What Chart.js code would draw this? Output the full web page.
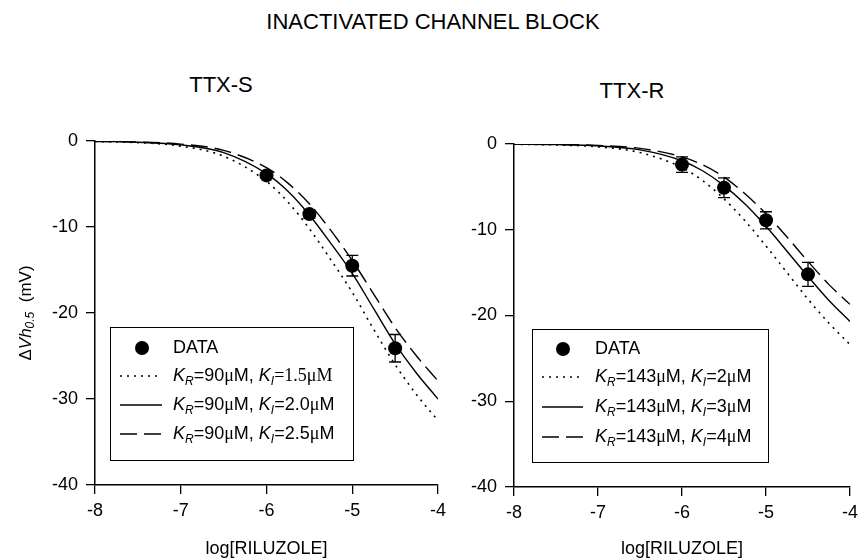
<!DOCTYPE html>
<html>
<head>
<meta charset="utf-8">
<title>Inactivated channel block</title>
<script src="https://cdn.jsdelivr.net/npm/chart.js@4.4.1/dist/chart.umd.min.js"></script>
<style>
  body { margin: 0; background: #fff; }
  #page { position: relative; width: 864px; height: 560px; overflow: hidden; font-family: "Liberation Sans", Arial, sans-serif; color: #000; }
  .lbl { position: absolute; transform: translate(-50%, -50%); white-space: nowrap; font-size: 22px; line-height: 1; }
  canvas { position: absolute; top: 0; }
</style>
</head>
<body>
<div id="page">
  <div class="lbl" style="left:433px;top:22px">INACTIVATED CHANNEL BLOCK</div>
  <div class="lbl" style="left:221px;top:85px">TTX-S</div>
  <div class="lbl" style="left:632px;top:91px">TTX-R</div>
  <canvas id="ttxs" width="462" height="560" style="left:0"></canvas>
  <canvas id="ttxr" width="424" height="560" style="left:440px"></canvas>
</div>
<script>
// values
const xTicks = [-8, -7, -6, -5, -4];
const yTicks = [0, -10, -20, -30, -40];
const doseLog = [-6, -5.5, -5, -4.5];

const ttxsMean = [-4.0, -8.5, -14.5, -24.1];
const ttxsSem = [0.3, 0.5, 1.2, 1.6];
const ttxrMean = [-2.4, -5.1, -8.9, -15.2];
const ttxrSem = [0.9, 1.15, 1.0, 1.4];

// model curves
const fitX = [-8, -7.5, -7, -6.5, -6, -5.75, -5.5, -5.25, -5, -4.75, -4.5, -4.25, -4];
const ttxsFitA = [-0.06, -0.19, -0.6, -1.77, -4.7, -7.1, -10.2, -13.8, -17.6, -21.9, -26.0, -29.5, -32.5];
const ttxsFitB = [-0.05, -0.14, -0.45, -1.35, -3.8, -5.85, -8.6, -11.9, -15.4, -19.5, -23.6, -27.0, -30.0];
const ttxsFitC = [-0.04, -0.12, -0.36, -1.09, -3.1, -4.9, -7.3, -10.4, -13.9, -17.8, -21.7, -25.0, -27.9];
const ttxrFitA = [-0.03, -0.11, -0.33, -1.0, -2.75, -4.3, -6.4, -8.95, -11.9, -15.0, -18.1, -20.9, -23.4];
const ttxrFitB = [-0.02, -0.07, -0.22, -0.68, -1.95, -3.15, -4.85, -7.0, -9.6, -12.5, -15.45, -18.25, -20.7];
const ttxrFitC = [-0.02, -0.05, -0.17, -0.51, -1.5, -2.45, -3.85, -5.8, -8.15, -10.85, -13.7, -16.4, -18.7];

const ttxsKr = '90';
const ttxsKi = ['1.5', '2.0', '2.5'];
const ttxrKr = '143';
const ttxrKi = ['2', '3', '4'];

const FAMILY = '"Liberation Sans", Arial, sans-serif';
const SERIF = '"Liberation Serif", "Times New Roman", serif';

// dotted, solid, long dash
const fitStyles = [
  { dash: [2, 5], width: 1.6 },
  { dash: [], width: 1.4 },
  { dash: [17, 7], width: 1.4 }
];

Chart.defaults.font.family = FAMILY;
Chart.defaults.color = '#000';

// draw text made of pieces (italic / subscript / serif)
function drawRich(ctx, segs, x, y, size, align) {
  const fontOf = s => (s.it ? 'italic ' : '') + (s.sub ? Math.round(size * 0.68) : size) + 'px ' + (s.serif ? SERIF : FAMILY);
  let w = 0;
  segs.forEach(s => { ctx.font = fontOf(s); s.w = ctx.measureText(s.t).width; w += s.w; });
  let cx = align === 'center' ? x - w / 2 : x;
  ctx.textAlign = 'left';
  ctx.textBaseline = 'middle';
  segs.forEach(s => {
    ctx.font = fontOf(s);
    ctx.fillText(s.t, cx, y + (s.sub ? size * 0.3 : 0));
    cx += s.w;
  });
}

function kLabel(kr, ki, serifKi) {
  return [
    { t: 'K', it: true }, { t: 'R', it: true, sub: true }, { t: '=' + kr }, { t: '\u03bc', serif: true }, { t: 'M, ' },
    { t: 'K', it: true }, { t: 'I', it: true, sub: true }, { t: '=' + ki, serif: serifKi },
    { t: '\u03bc', serif: true }, { t: 'M', serif: serifKi }
  ];
}

function makeChart(id, p) {
  const datasets = p.fits.map((f, i) => ({
    type: 'line',
    data: fitX.map((x, j) => ({ x: x, y: f[j] })),
    borderColor: '#000',
    borderWidth: fitStyles[i].width,
    borderDash: fitStyles[i].dash,
    pointRadius: 0,
    showLine: true,
    cubicInterpolationMode: 'monotone',
    fill: false
  }));
  datasets.push({
    type: 'scatter',
    data: doseLog.map((x, j) => ({ x: x, y: p.mean[j] })),
    backgroundColor: '#000',
    borderColor: '#000',
    pointRadius: 7,
    pointBorderWidth: 0
  });

  const errorBars = {
    id: 'errorBars',
    afterDatasetsDraw(chart) {
      const { ctx, scales: { x, y } } = chart;
      ctx.save();
      ctx.strokeStyle = '#000';
      ctx.lineWidth = 1.3;
      doseLog.forEach((d, j) => {
        const px = x.getPixelForValue(d);
        const top = y.getPixelForValue(p.mean[j] + p.sem[j]);
        const bot = y.getPixelForValue(p.mean[j] - p.sem[j]);
        ctx.beginPath();
        ctx.moveTo(px, top); ctx.lineTo(px, bot);
        ctx.moveTo(px - 6, top); ctx.lineTo(px + 6, top);
        ctx.moveTo(px - 6, bot); ctx.lineTo(px + 6, bot);
        ctx.stroke();
      });
      ctx.restore();
    }
  };

  const legendBox = {
    id: 'legendBox',
    afterDraw(chart) {
      const ctx = chart.ctx, L = p.legend;
      ctx.save();
      ctx.fillStyle = '#fff';
      ctx.fillRect(L.x, L.y, L.w, L.h);
      ctx.strokeStyle = '#000';
      ctx.lineWidth = 1;
      ctx.strokeRect(L.x + 0.5, L.y + 0.5, L.w, L.h);
      ctx.fillStyle = '#000';
      ctx.beginPath();
      ctx.arc(L.mark, L.rows[0], 7, 0, Math.PI * 2);
      ctx.fill();
      drawRich(ctx, [{ t: 'DATA' }], L.text, L.rows[0], 18);
      p.ki.forEach((ki, i) => {
        const yy = L.rows[i + 1];
        ctx.setLineDash(fitStyles[i].dash);
        ctx.lineWidth = fitStyles[i].width;
        ctx.beginPath();
        ctx.moveTo(L.l0, yy); ctx.lineTo(L.l1, yy);
        ctx.stroke();
        ctx.setLineDash([]);
        drawRich(ctx, kLabel(p.kr, ki, p.serifRow === i), L.text, yy, 18);
      });
      ctx.restore();
    }
  };

  const yTitle = {
    id: 'yTitle',
    afterDraw(chart) {
      if (!p.yTitle) return;
      const ctx = chart.ctx;
      ctx.save();
      ctx.translate(26, 313);
      ctx.rotate(-Math.PI / 2);
      ctx.fillStyle = '#000';
      drawRich(ctx, [{ t: '\u0394' }, { t: 'Vh', it: true }, { t: '0.5', it: true, sub: true }, { t: '  (mV)' }], 0, 0, 17, 'center');
      ctx.restore();
    }
  };

  const axisLine = { color: '#000', width: 1.5 };
  const tickMarks = { drawOnChartArea: false, tickLength: 9, color: '#000', lineWidth: 1.3 };

  return new Chart(document.getElementById(id), {
    type: 'scatter',
    data: { datasets },
    options: {
      responsive: false,
      animation: false,
      layout: { autoPadding: false, padding: { top: p.top, right: p.right, bottom: 0, left: 0 } },
      plugins: { legend: { display: false }, tooltip: { enabled: false } },
      scales: {
        x: {
          type: 'linear', min: -8, max: -4,
          afterBuildTicks: s => { s.ticks = xTicks.map(v => ({ value: v })); },
          afterFit: s => { s.height = p.xh; },
          ticks: { color: '#000', font: { size: 18 }, padding: 6, maxRotation: 0 },
          grid: tickMarks,
          border: axisLine,
          title: { display: true, text: 'log[RILUZOLE]', color: '#000', font: { size: 18 }, padding: { top: 0, bottom: 0 } }
        },
        y: {
          type: 'linear', min: -40, max: 0,
          afterBuildTicks: s => { s.ticks = yTicks.map(v => ({ value: v })); },
          afterFit: s => { s.width = p.yw; },
          ticks: { color: '#000', font: { size: 18 }, padding: 8 },
          grid: tickMarks,
          border: axisLine
        }
      }
    },
    plugins: [errorBars, legendBox, yTitle]
  });
}

makeChart('ttxs', {
  fits: [ttxsFitA, ttxsFitB, ttxsFitC],
  mean: ttxsMean, sem: ttxsSem,
  kr: ttxsKr, ki: ttxsKi, serifRow: 0,
  top: 141, right: 24, xh: 75, yw: 95, yTitle: true,
  legend: { x: 110, y: 327, w: 243, h: 133, mark: 142, l0: 120, l1: 162, text: 173, rows: [348, 376, 405, 434] }
});

makeChart('ttxr', {
  fits: [ttxrFitA, ttxrFitB, ttxrFitC],
  mean: ttxrMean, sem: ttxrSem,
  kr: ttxrKr, ki: ttxrKi, serifRow: -1,
  top: 144, right: 7, xh: 73, yw: 74, yTitle: false,
  legend: { x: 92, y: 329, w: 236, h: 133, mark: 123, l0: 102, l1: 143, text: 155, rows: [349, 377, 407, 437] }
});
</script>
</body>
</html>
